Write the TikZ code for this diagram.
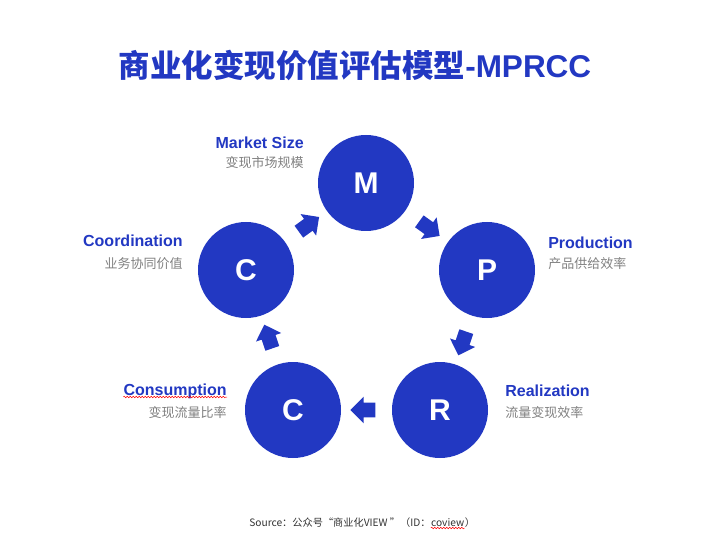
\documentclass[tikz,border=0pt]{standalone}
\usepackage{fontspec}
\setmainfont{Liberation Sans}
\newfontfamily\cjk{Noto Sans CJK SC}
\usetikzlibrary{shapes.arrows, decorations.pathmorphing}

\definecolor{mblue}{RGB}{34,56,194}
\definecolor{subgray}{RGB}{128,128,128}

\begin{document}
\begin{tikzpicture}[x = 1pt, y = -1pt, % pixel grid, y downwards
                semithick % line style
            ]

            \tikzstyle{stage}=[circle, fill = mblue, text = white,
            minimum size = 96pt, inner sep = 0pt, font = \fontsize{30}{30}\selectfont\bfseries]
            \tikzstyle{flow}=[single arrow, fill = mblue, inner xsep = 0pt,
            inner ysep = 7pt, minimum height = 25pt,
            single arrow head extend = 6pt, sloped, allow upside down]
            \tikzstyle{enlabel}=[text = mblue, inner sep = 0pt,
            font = \fontsize{16}{16}\selectfont\bfseries]
            \tikzstyle{cnlabel}=[text = subgray, inner sep = 0pt,
            font = \cjk\fontsize{13}{13}\selectfont]
            \tikzstyle{wavy}=[red, line width = 0.5pt,
            decorate, decoration = {snake, amplitude = 0.8pt, segment length = 3pt}]

            \useasboundingbox (0,0) rectangle (708,534);

            % title
            \node (title) [text = mblue, inner sep = 0pt,
            font = \fontsize{31.5}{31.5}\selectfont\bfseries] at (355,65)
            {{\cjk 商业化变现价值评估模型}-MPRCC};

            % the five stages
            \node (m) [stage] at (366,183) {M}; \node (p) [stage] at (487,270)
            {P}; \node (r) [stage] at (440,410) {R}; \node (c1) [stage] at
            (293,410) {C}; \node (c2) [stage] at (246,270) {C};

            \path (m) -- node (a1) [flow] {} (p); \path (p) -- node (a2) [flow]
            {} (r); \path (r) -- node (a3) [flow] {} (c1); \path (c1) -- node
            (a4) [flow] {} (c2); \path (c2) -- node (a5) [flow] {} (m);

            % labels
            \node (mname) [enlabel, anchor = base east] at (304,149) {Market Size};
            \node (mnote) [cnlabel, anchor = base east] at (304,168) {变现市场规模};
            \node (pname) [enlabel, anchor = base west] at (548,248) {Production};
            \node (pnote) [cnlabel, anchor = base west] at (548,268) {产品供给效率};
            \node (rname) [enlabel, anchor = base west] at (505,396) {Realization};
            \node (rnote) [cnlabel, anchor = base west] at (505,417) {流量变现效率};
            \node (c1name) [enlabel, anchor = base east] at (227,395) {Consumption};
            \node (c1note) [cnlabel, anchor = base east] at (227,417) {变现流量比率};
            \node (c2name) [enlabel, anchor = base east] at (183,247) {Coordination};
            \node (c2note) [cnlabel, anchor = base east] at (183,268) {业务协同价值};
            \draw[wavy] ([yshift = -2pt]c1name.base west) -- ([yshift =
            -2pt]c1name.base east);

            % source line
            \tikzstyle{src}=[inner sep = 0pt, text = black!80,
            font = \cjk\fontsize{10.2}{10.2}\selectfont]
            \node (s1) [src, anchor = base west] at (249,526)
            {Source：公众号“商业化VIEW ”（ID：};
            \node (s2) [src, anchor = base west] at (s1.base east) {coview};
            \node (s3) [src, anchor = base west] at (s2.base east) {）};
            \draw[wavy] ([yshift = -2pt]s2.base west) -- ([yshift =
            -2pt]s2.base east);
        \end{tikzpicture}
\end{document}
